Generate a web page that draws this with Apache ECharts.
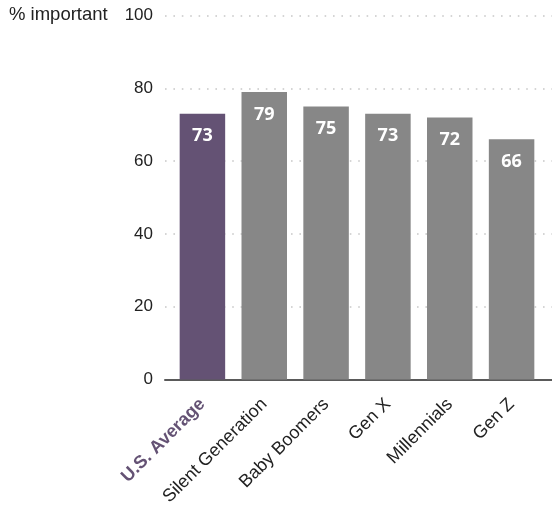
<!DOCTYPE html>
<html>
<head>
<meta charset="utf-8">
<script src="https://cdn.jsdelivr.net/npm/echarts@6/dist/echarts.min.js"></script>
<style>
  html, body { margin: 0; padding: 0; background: #fff; }
  #chart { width: 552px; height: 509px; }
</style>
</head>
<body>
<div id="chart"></div>
<script>
// Share of respondents rating the item important, by generation
const categories = ['U.S. Average', 'Silent Generation', 'Baby Boomers', 'Gen X', 'Millennials', 'Gen Z'];
const values = [73, 79, 75, 73, 72, 66];
const yTicks = [0, 20, 40, 60, 80, 100];

const PURPLE = '#645274';
const GRAY = '#878787';
const FONT = '"Liberation Sans", Arial, sans-serif';
const NUM_FONT = '"Noto Sans", "Open Sans", sans-serif';

const chart = echarts.init(document.getElementById('chart'), null, { renderer: 'canvas' });

chart.setOption({
  animation: false,
  backgroundColor: '#fff',
  graphic: [{
    type: 'text',
    left: 9,
    top: 5,
    style: { text: '% important', fontFamily: FONT, fontSize: 18.5, fill: '#222' }
  }],
  grid: [
    // frame: value scale, dotted guides and baseline
    { left: 165, right: 0, top: 15.5, height: 364 },
    // bars
    { left: 171.5, right: 9.5, top: 15.5, height: 364 }
  ],
  xAxis: [
    {
      gridIndex: 0, type: 'value', min: 0, max: 1,
      axisLine: { show: true, onZero: false, lineStyle: { color: '#5a5a5a', width: 2 } },
      axisTick: { show: false },
      axisLabel: { show: false }, splitLine: { show: false }
    },
    {
      gridIndex: 1, type: 'category', data: categories,
      axisLine: { show: false },
      axisTick: { show: false },
      axisLabel: {
        interval: 0, rotate: 45, margin: 22,
        fontFamily: FONT, fontSize: 18, color: '#222',
        formatter: (v) => v === categories[0] ? '{avg|' + v + '}' : v,
        rich: { avg: { fontFamily: FONT, fontSize: 18, fontWeight: 'bold', color: PURPLE } }
      }
    }
  ],
  yAxis: [
    {
      gridIndex: 0, type: 'value', min: yTicks[0], max: yTicks[yTicks.length - 1], interval: 20,
      axisLine: { show: false }, axisTick: { show: false },
      axisLabel: { margin: 12, fontFamily: FONT, fontSize: 17, color: '#222' },
      splitLine: { show: true, lineStyle: { color: '#c8c8c8', width: 1.6, type: [1.6, 6.8] } }
    },
    {
      gridIndex: 1, type: 'value', min: 0, max: 100,
      axisLine: { show: false }, axisTick: { show: false },
      axisLabel: { show: false }, splitLine: { show: false }
    }
  ],
  series: [{
    type: 'bar',
    xAxisIndex: 1,
    yAxisIndex: 1,
    barWidth: 45.5,
    data: values.map((v, i) => ({
      value: v,
      itemStyle: { color: i === 0 ? PURPLE : GRAY }
    })),
    label: {
      show: true,
      position: 'insideTop',
      distance: 13.5,
      fontFamily: NUM_FONT,
      fontSize: 18,
      fontWeight: 'bold',
      color: '#fff'
    },
    z: 3
  }]
});
</script>
</body>
</html>
